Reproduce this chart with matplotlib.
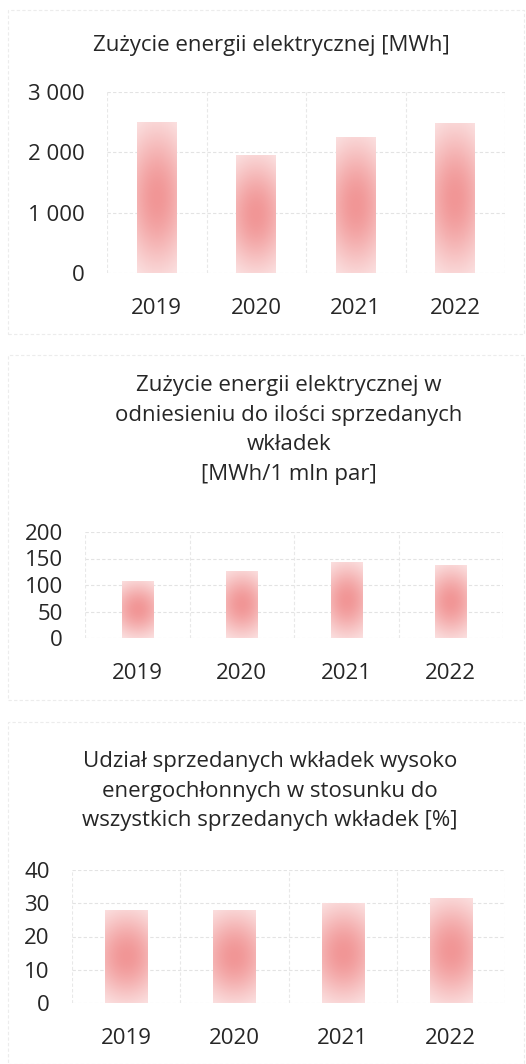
import numpy as np
import matplotlib.pyplot as plt
from matplotlib.patches import Rectangle

plt.rcParams['font.family'] = ['Open Sans', 'DejaVu Sans']

years = ['2019', '2020', '2021', '2022']
energy_mwh = [2500, 1950, 2250, 2480]
energy_per_mln = [108, 127, 143, 137]
high_share_pct = [28, 28, 30, 31.5]

titles = [
    'Zużycie energii elektrycznej [MWh]',
    'Zużycie energii elektrycznej w\nodniesieniu do ilości sprzedanych\nwkładek\n[MWh/1 mln par]',
    'Udział sprzedanych wkładek wysoko\nenergochłonnych w stosunku do\nwszystkich sprzedanych wkładek [%]',
]

W, H = 526, 1064
fig = plt.figure(figsize=(W / 100, H / 100), dpi=100)


def px_axes(x0, y0, x1, y1):
    # pixel box (top-left origin) -> figure axes
    return fig.add_axes([x0 / W, 1 - y1 / H, (x1 - x0) / W, (y1 - y0) / H])


# soft pink gradient used to fill bars (like the scanned fill)
gy, gx = np.mgrid[-1:1:120j, -1:1:40j]
t = np.exp(-(gx / 1.8) ** 2 - (gy / 1.0) ** 2)
t = np.clip((t - 0.25) / 0.75, 0, 1)
c_in = np.array([241, 150, 150]) / 255
c_out = np.array([251, 225, 225]) / 255
grad = c_out + (c_in - c_out) * t[..., None]


def draw_chart(box, values, ymax, step, width, fmt):
    ax = px_axes(*box)
    x = np.arange(len(years))
    bars = ax.bar(x, values, width=width, color='none', edgecolor='none', zorder=2)
    for b in bars:
        im = ax.imshow(grad, extent=[b.get_x(), b.get_x() + b.get_width(), 0, b.get_height()],
                       aspect='auto', zorder=2, interpolation='bilinear')
        im.set_clip_path(b)
    ax.set_xlim(-0.5, len(years) - 0.5)
    ax.set_ylim(0, ymax)
    ticks = np.arange(0, ymax + step / 2, step)
    ax.set_yticks(ticks)
    ax.set_yticklabels([fmt(v) for v in ticks])
    ax.set_xticks(x)
    ax.set_xticklabels(years)
    for v in ticks:
        ax.axhline(v, color='#e3e3e3', lw=0.8, ls=(0, (3, 2)), zorder=1)
    for v in np.arange(-0.5, len(years), 1):
        ax.axvline(v, color='#e8e8e8', lw=0.8, ls=(0, (3, 2)), zorder=1)
    for s in ax.spines.values():
        s.set_visible(False)
    ax.tick_params(length=0, labelsize=16, colors='#262626')
    ax.tick_params(axis='y', pad=16)
    ax.tick_params(axis='x', pad=18)
    return ax


def thousands(v):
    return f'{int(v):,}'.replace(',', '\u00a0') if v else '0'


draw_chart((107, 92, 505, 273), energy_mwh, 3000, 1000, 0.4, thousands)
draw_chart((85, 532, 503, 638), energy_per_mln, 200, 50, 0.3, lambda v: str(int(v)))
draw_chart((72, 870, 505, 1003), high_share_pct, 40, 10, 0.39, lambda v: str(int(v)))

fig.text(271 / W, 1 - 45 / H, titles[0], ha='center', va='center', fontsize=16, color='#262626')
fig.text(289 / W, 1 - 430 / H, titles[1], ha='center', va='center', fontsize=16,
         color='#262626', linespacing=1.55)
fig.text(270 / W, 1 - 791 / H, titles[2], ha='center', va='center', fontsize=16,
         color='#262626', linespacing=1.55)

# faint chart frames from the scanned page
for y0, y1 in [(10, 334), (355, 700), (722, 1064)]:
    fig.patches.append(Rectangle((8 / W, 1 - y1 / H), (W - 10) / W, (y1 - y0) / H,
                                 transform=fig.transFigure, fill=False,
                                 edgecolor='#ececec', lw=0.8, ls=(0, (3, 2))))

fig.savefig('out.png', dpi=100, facecolor='white')
